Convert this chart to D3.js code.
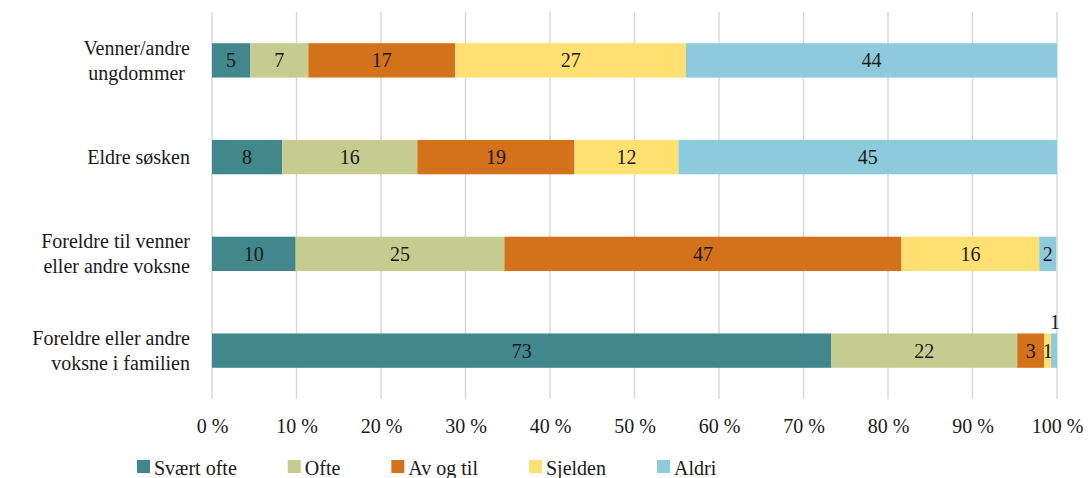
<!DOCTYPE html>
<html><head><meta charset="utf-8">
<script src="https://cdn.jsdelivr.net/npm/d3@7"></script>
<style>body{margin:0;background:#fff}svg{display:block}</style>
</head><body><svg id="c" width="1090" height="478" font-family="Liberation Serif"></svg>
<script>
const categories = [["Venner/andre","ungdommer "],["Eldre søsken"],["Foreldre til venner","eller andre voksne"],["Foreldre eller andre","voksne i familien"]];
const series = ["Svært ofte","Ofte","Av og til","Sjelden","Aldri"];
const colors = ["#41878c","#c5cc8f","#d4711b","#ffe070","#8ccadc"];
const svaertOfte = [4.5, 8.3, 9.9, 73.3];
const ofte = [6.9, 16.0, 24.7, 22.0];
const avOgTil = [17.4, 18.6, 47.0, 3.2];
const sjelden = [27.3, 12.3, 16.3, 0.8];
const aldri = [43.9, 44.8, 2.0, 0.7];
const ticks = [0,10,20,30,40,50,60,70,80,90,100];

const FONT = "Liberation Serif";
const FS = 20;
const values = [svaertOfte, ofte, avOgTil, sjelden, aldri];
const svg = d3.select("#c");
const m = {l:212, r:1057, t:12, b:399};
const x = d3.scaleLinear().domain([0,100]).range([m.l, m.r]);
const y = d3.scaleBand().domain(d3.range(categories.length)).range([m.t, m.b]).paddingInner(0.645).paddingOuter(0.3225);

// gridlines
svg.append("g").selectAll("line").data(ticks).join("line")
  .attr("x1", d=>x(d)).attr("x2", d=>x(d)).attr("y1", m.t).attr("y2", m.b)
  .attr("stroke", "#d9d9d9").attr("stroke-width", 1.5);

// tick labels
const ax = svg.append("g").attr("transform", `translate(0,${m.b + 20})`)
  .call(d3.axisBottom(x).tickValues(ticks).tickFormat(d=>d+" %").tickSize(0).tickPadding(0));
ax.attr("font-family", FONT).attr("font-size", FS);
ax.select(".domain").remove();
ax.selectAll("text").attr("font-family", FONT).attr("font-size", FS).attr("fill", "#1a1a1a");

// stacks
const rows = categories.map((c,i)=>{ const o={i}; series.forEach((s,j)=>o[s]=values[j][i]); return o; });
const stack = d3.stack().keys(series)(rows);
const g = svg.append("g");
stack.forEach((layer, j)=>{
  g.append("g").selectAll("rect").data(layer).join("rect")
    .attr("x", d=>x(d[0])).attr("width", d=>x(d[1])-x(d[0]))
    .attr("y", (d,i)=>y(i)).attr("height", y.bandwidth())
    .attr("fill", colors[j]);
});
// value labels
stack.forEach((layer, j)=>{
  layer.forEach((d,i)=>{
    const v = d[1]-d[0];
    let cx = (x(d[0])+x(d[1]))/2, cy = y(i)+y.bandwidth()/2 + 7;
    if (v < 0.75) { cy = y(i) - 4; cx = x(d[1]) - 2; }
    svg.append("text").attr("x", cx).attr("y", cy).attr("text-anchor","middle")
      .attr("font-family", FONT).attr("font-size", FS).attr("fill","#1a1a1a").text(Math.round(v));
  });
});

// category labels
categories.forEach((lines,i)=>{
  const cy = y(i)+y.bandwidth()/2;
  const lh = 25;
  const t = svg.append("text").attr("text-anchor","end").attr("font-size",FS).attr("fill","#1a1a1a")
    .attr("font-family", FONT).attr("xml:space","preserve");
  lines.forEach((ln,k)=>{
    t.append("tspan").attr("x",190).attr("y", cy + 7 + (k - (lines.length-1)/2)*lh).text(ln);
  });
});

// legend
const lg = svg.append("g");
let lx = 137;
series.forEach((s,j)=>{
  lg.append("rect").attr("x", lx).attr("y", 460).attr("width", 13).attr("height", 13).attr("fill", colors[j]);
  const t = lg.append("text").attr("x", lx+17).attr("y", 475).attr("font-size",FS).attr("fill","#1a1a1a")
    .attr("font-family", FONT).text(s);
  const w = t.node().getComputedTextLength();
  lx += 17 + w + 51;
});
</script></body></html>
